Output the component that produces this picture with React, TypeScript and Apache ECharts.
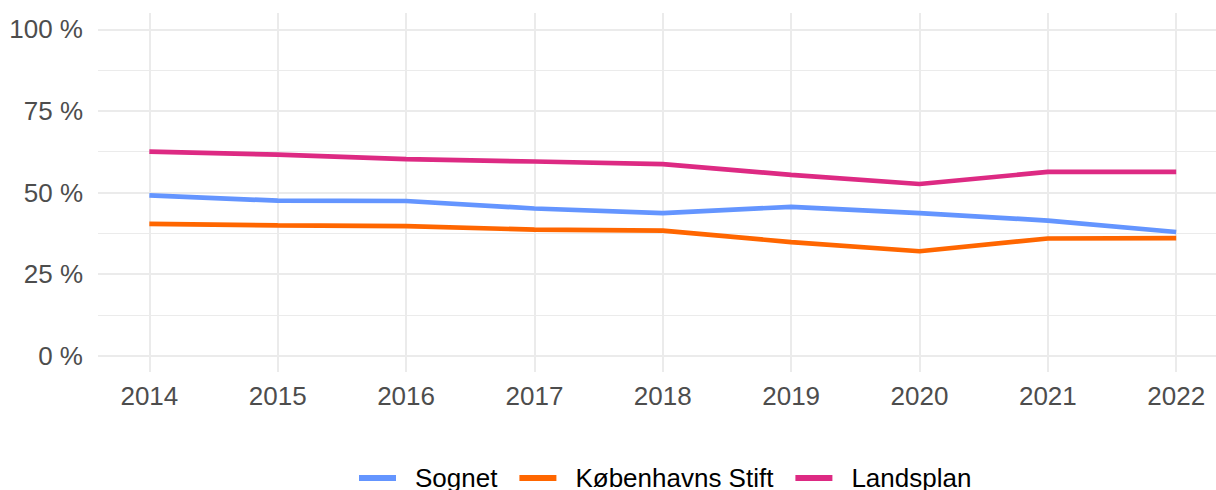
import React, { useEffect, useRef } from "react";
import * as echarts from "echarts";

const years = [2014, 2015, 2016, 2017, 2018, 2019, 2020, 2021, 2022];
const sognet = [49.1, 47.5, 47.4, 45.1, 43.7, 45.6, 43.7, 41.4, 37.9];
const kobenhavn = [40.4, 39.9, 39.7, 38.6, 38.3, 34.8, 32.0, 35.9, 36.0];
const landsplan = [62.5, 61.6, 60.2, 59.5, 58.7, 55.4, 52.6, 56.3, 56.3];
const seriesNames = ["Sognet", "Københavns Stift", "Landsplan"];
const seriesColors = ["#6495FF", "#FF6600", "#DD2A83"];
const yTicks = [0, 25, 50, 75, 100];
const yMinor = [12.5, 37.5, 62.5, 87.5];

const FONT = "'Liberation Sans', Arial, Helvetica, sans-serif";

export default function App() {
  const ref = useRef<HTMLDivElement>(null);
  useEffect(() => {
    document.body.style.margin = "0";
    if (!ref.current) return;
    const chart = echarts.init(ref.current, null, { renderer: "svg" });
    const values = [sognet, kobenhavn, landsplan];
    const gridLines: any[] = [];
    yTicks.forEach((v) => gridLines.push({ yAxis: v, lineStyle: { color: "#EBEBEB", width: 2, type: "solid" } }));
    yMinor.forEach((v) => gridLines.push({ yAxis: v, lineStyle: { color: "#EBEBEB", width: 1.1, type: "solid" } }));
    years.forEach((v) => gridLines.push({ xAxis: v, lineStyle: { color: "#EBEBEB", width: 2, type: "solid" } }));
    chart.setOption({
      animation: false,
      backgroundColor: "#FFFFFF",
      grid: { left: 98, right: 0, top: 13, bottom: 118, containLabel: false },
      xAxis: {
        type: "value",
        min: 2013.6,
        max: 2022.31,
        axisLine: { show: false },
        axisTick: { show: false },
        splitLine: { show: false },
        axisLabel: {
          customValues: years,
          formatter: (v: number) => String(v),
          color: "#4D4D4D",
          fontSize: 26,
          fontFamily: FONT,
          margin: 11,
        },
      },
      yAxis: {
        type: "value",
        min: -5,
        max: 105,
        axisLine: { show: false },
        axisTick: { show: false },
        splitLine: { show: false },
        axisLabel: {
          customValues: yTicks,
          formatter: (v: number) => `${v} %`,
          color: "#4D4D4D",
          fontSize: 26,
          fontFamily: FONT,
          margin: 15,
        },
      },
      legend: {
        data: seriesNames,
        left: 354,
        top: 460,
        icon: "rect",
        itemWidth: 37,
        itemHeight: 6,
        itemGap: 22,
        textStyle: {
          color: "#000000",
          fontSize: 26,
          fontFamily: FONT,
          lineHeight: 26,
          padding: [0, 0, 0, 14],
        },
      },
      series: [
        {
          type: "line",
          name: "grid",
          data: [],
          silent: true,
          markLine: {
            silent: true,
            z: 1,
            symbol: ["none", "none"],
            label: { show: false },
            emphasis: { disabled: true },
            data: gridLines,
          },
        },
        ...seriesNames.map((name, i) => ({
          type: "line",
          name,
          z: 3,
          data: years.map((y, j) => [y, values[i][j]]),
          symbol: "none",
          color: seriesColors[i],
          lineStyle: { color: seriesColors[i], width: 4.7 },
          itemStyle: { color: seriesColors[i] },
        })),
      ],
    });
    return () => chart.dispose();
  }, []);
  return <div ref={ref} style={{ width: 1216, height: 490 }} />;
}
